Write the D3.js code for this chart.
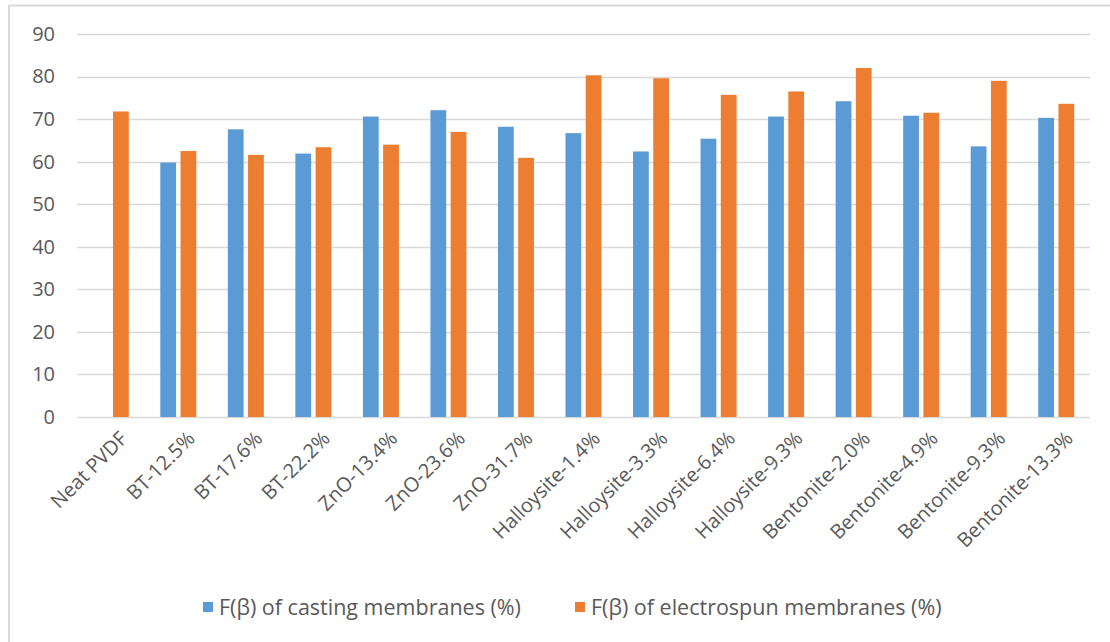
<!DOCTYPE html>
<html>
<head>
<meta charset="utf-8">
<script src="https://cdn.jsdelivr.net/npm/d3@7"></script>
<style>
  html, body { margin: 0; padding: 0; background: #fff; }
  svg { display: block; }
  text { font-family: "Open Sans", Lato, sans-serif; fill: #595959; }
</style>
</head>
<body>
<svg id="chart" width="1110" height="642"></svg>
<script>
// Membrane samples along the x axis
const categories = [
  "Neat PVDF", "BT-12.5%", "BT-17.6%", "BT-22.2%",
  "ZnO-13.4%", "ZnO-23.6%", "ZnO-31.7%",
  "Halloysite-1.4%", "Halloysite-3.3%", "Halloysite-6.4%", "Halloysite-9.3%",
  "Bentonite-2.0%", "Bentonite-4.9%", "Bentonite-9.3%", "Bentonite-13.3%"
];

// β-phase fraction (%) of the cast membranes (no cast neat PVDF sample)
const casting = [null, 59.8, 67.6, 61.9, 70.6, 72.1, 68.2, 66.7, 62.4, 65.4, 70.6, 74.2, 70.8, 63.6, 70.3];

// β-phase fraction (%) of the electrospun membranes
const electrospun = [71.8, 62.5, 61.6, 63.4, 64.0, 67.0, 60.9, 80.3, 79.6, 75.7, 76.5, 82.0, 71.5, 79.0, 73.6];

const seriesNames = ["F(β) of casting membranes (%)", "F(β) of electrospun membranes (%)"];
const yTicks = [0, 10, 20, 30, 40, 50, 60, 70, 80, 90];

const colors = ["#5B9BD5", "#ED7D31"];
const AXIS_FONT = 20;
const LEGEND_FONT = 21.5;

const svg = d3.select("#chart");
const W = 1110, H = 642;

// outer chart frame (top and left edges are visible)
svg.append("line").attr("x1", 9).attr("x2", W).attr("y1", 5.5).attr("y2", 5.5)
  .attr("stroke", "#D9D9D9").attr("stroke-width", 2);
svg.append("line").attr("x1", 9).attr("x2", 9).attr("y1", 5).attr("y2", H)
  .attr("stroke", "#D9D9D9").attr("stroke-width", 2);

const plot = { left: 77, right: 1090, top: 34, bottom: 417 };

const x = d3.scaleBand()
  .domain(categories)
  .range([plot.left, plot.right])
  .paddingInner(0)
  .paddingOuter(0);

const inner = d3.scaleBand()
  .domain([0, 1])
  .range([x.bandwidth() / 2 - 18, x.bandwidth() / 2 + 18])
  .paddingInner(0.22)
  .paddingOuter(0);

const y = d3.scaleLinear().domain([0, 90]).range([plot.bottom, plot.top]);

// horizontal gridlines
svg.append("g")
  .selectAll("line")
  .data(yTicks)
  .join("line")
  .attr("x1", plot.left)
  .attr("x2", plot.right)
  .attr("y1", d => Math.round(y(d)) + 0.5)
  .attr("y2", d => Math.round(y(d)) + 0.5)
  .attr("stroke", "#D9D9D9")
  .attr("stroke-width", 1.5);

// y axis tick labels
const yAxis = d3.axisLeft(y).tickValues(yTicks).tickSize(0).tickPadding(0);
const yg = svg.append("g")
  .attr("transform", `translate(55,0)`)
  .call(yAxis);
yg.select(".domain").remove();
yg.selectAll("text")
  .attr("font-size", AXIS_FONT)
  .attr("font-family", "'Open Sans', sans-serif")
  .attr("fill", "#595959")
  .attr("text-anchor", "end");

// bars
const seriesData = [casting, electrospun];
seriesData.forEach((vals, si) => {
  svg.append("g")
    .selectAll("rect")
    .data(vals.map((v, i) => ({ cat: categories[i], v })).filter(d => d.v != null))
    .join("rect")
    .attr("x", d => x(d.cat) + inner(si))
    .attr("width", inner.bandwidth())
    .attr("y", d => y(d.v))
    .attr("height", d => y(0) - y(d.v))
    .attr("fill", colors[si]);
});

// x axis category labels, rotated
const xg = svg.append("g");
xg.selectAll("text")
  .data(categories)
  .join("text")
  .attr("transform", d => `translate(${x(d) + x.bandwidth() / 2 + 8},${plot.bottom + 13}) rotate(-45)`)
  .attr("text-anchor", "end")
  .attr("dy", "0.7em")
  .attr("font-size", AXIS_FONT)
  .text(d => d);

// legend
const legendItems = [
  { name: seriesNames[0], color: colors[0], x: 203 },
  { name: seriesNames[1], color: colors[1], x: 575 }
];
const lg = svg.append("g");
legendItems.forEach(item => {
  lg.append("rect")
    .attr("x", item.x).attr("y", 602)
    .attr("width", 10).attr("height", 10)
    .attr("fill", item.color);
  lg.append("text")
    .attr("x", item.x + 16).attr("y", 607)
    .attr("dy", "0.35em")
    .attr("font-size", LEGEND_FONT)
    .text(item.name);
});
</script>
</body>
</html>
